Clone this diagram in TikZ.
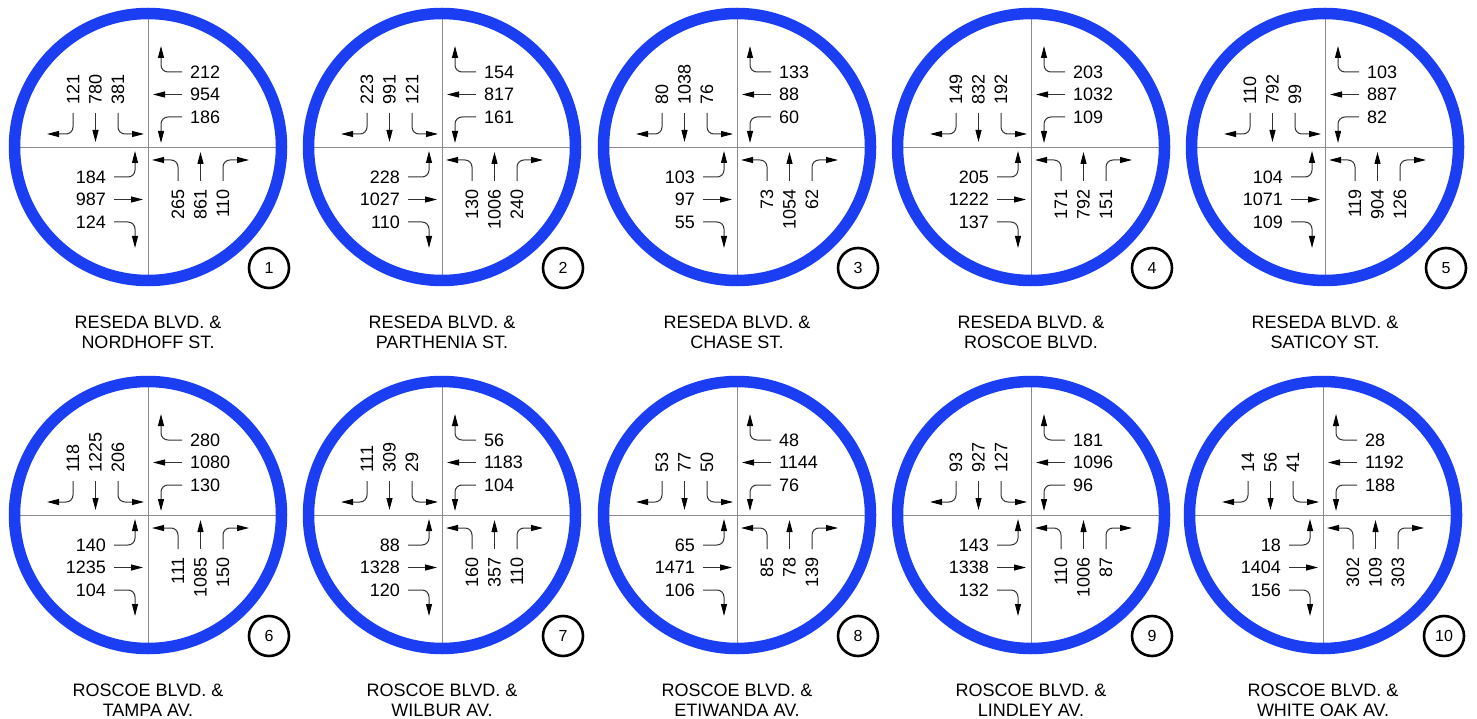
\documentclass[tikz,border=0pt]{standalone}
\usepackage{fontspec}
\setmainfont{Liberation Sans}
\usetikzlibrary{arrows.meta}
\definecolor{ringblue}{RGB}{28,62,242}
\tikzset{
  vol/.style={font=\fontsize{18}{20}\selectfont, inner sep=0pt},
  mv/.style={draw=black!80, line width=1pt, rounded corners=7pt,
             -{Triangle[length=12pt,width=6pt,color=black]}},
  ring/.style={draw=ringblue, line width=11.5pt},
  cross/.style={draw=black!45, line width=0.8pt},
  badge/.style={circle, draw=black, line width=2.6pt, minimum size=40pt,
                inner sep=0pt, font=\fontsize{16}{16}\selectfont},
  caption/.style={align=center, inner sep=0pt, font=\fontsize{18}{20}\selectfont}
}
% one approach's three movements, drawn for southbound traffic
\newcommand\moveset{%
  \draw[mv] (-75,-34) |- (-101,-13);
  \draw[mv] (-52.5,-34) -- (-52.5,-5);
  \draw[mv] (-30,-34) |- (-4,-13);}
% #1 id, #2 x, #3 y, #4 caption
\newcommand\jct[4]{%
  \begin{scope}[shift={(#2,#3)}]
    \draw[cross] (-133,0) -- (133,0);
    \draw[cross] (0,-133) -- (0,133);
    \draw[ring] (0,0) circle[radius=133.5pt];
    \foreach \r in {0,-90,-180,-270}{%
      \begin{scope}[rotate=\r]\moveset\end{scope}}
    \node[badge] (j#1badge) at (121,121) {#1};
    \node[caption] (j#1cap) at (0,185) {#4};
  \end{scope}}
% #1 id, #2 x, #3 y, #4-#6 southbound R T L, #7-#9 westbound R T L
\newcommand\volsA[9]{%
  \begin{scope}[shift={(#2,#3)}]
    \node[vol,rotate=90,anchor=west] (j#1sbr) at (-75,-42) {#4};
    \node[vol,rotate=90,anchor=west] (j#1sbt) at (-52.5,-42) {#5};
    \node[vol,rotate=90,anchor=west] (j#1sbl) at (-30,-42) {#6};
    \node[vol,anchor=west] (j#1wbr) at (42,-75) {#7};
    \node[vol,anchor=west] (j#1wbt) at (42,-52.5) {#8};
    \node[vol,anchor=west] (j#1wbl) at (42,-30) {#9};
  \end{scope}}
% #1 id, #2 x, #3 y, #4-#6 northbound L T R, #7-#9 eastbound L T R
\newcommand\volsB[9]{%
  \begin{scope}[shift={(#2,#3)}]
    \node[vol,rotate=90,anchor=east] (j#1nbl) at (30,42) {#4};
    \node[vol,rotate=90,anchor=east] (j#1nbt) at (52.5,42) {#5};
    \node[vol,rotate=90,anchor=east] (j#1nbr) at (75,42) {#6};
    \node[vol,anchor=east] (j#1ebl) at (-42,30) {#7};
    \node[vol,anchor=east] (j#1ebt) at (-42,52.5) {#8};
    \node[vol,anchor=east] (j#1ebr) at (-42,75) {#9};
  \end{scope}}
\begin{document}
\begin{tikzpicture}[x=1pt,y=-1pt]
\useasboundingbox[fill=white] (0,0) rectangle (1477,719);
% row 1
\jct{1}{148}{147}{RESEDA BLVD. \&\\NORDHOFF ST.}
\volsA{1}{148}{147}{121}{780}{381}{212}{954}{186}
\volsB{1}{148}{147}{265}{861}{110}{184}{987}{124}
\jct{2}{442}{147}{RESEDA BLVD. \&\\PARTHENIA ST.}
\volsA{2}{442}{147}{223}{991}{121}{154}{817}{161}
\volsB{2}{442}{147}{130}{1006}{240}{228}{1027}{110}
\jct{3}{737}{147}{RESEDA BLVD. \&\\CHASE ST.}
\volsA{3}{737}{147}{80}{1038}{76}{133}{88}{60}
\volsB{3}{737}{147}{73}{1054}{62}{103}{97}{55}
\jct{4}{1031}{147}{RESEDA BLVD. \&\\ROSCOE BLVD.}
\volsA{4}{1031}{147}{149}{832}{192}{203}{1032}{109}
\volsB{4}{1031}{147}{171}{792}{151}{205}{1222}{137}
\jct{5}{1325}{147}{RESEDA BLVD. \&\\SATICOY ST.}
\volsA{5}{1325}{147}{110}{792}{99}{103}{887}{82}
\volsB{5}{1325}{147}{119}{904}{126}{104}{1071}{109}
% row 2
\jct{6}{148}{515}{ROSCOE BLVD. \&\\TAMPA AV.}
\volsA{6}{148}{515}{118}{1225}{206}{280}{1080}{130}
\volsB{6}{148}{515}{111}{1085}{150}{140}{1235}{104}
\jct{7}{442}{515}{ROSCOE BLVD. \&\\WILBUR AV.}
\volsA{7}{442}{515}{111}{309}{29}{56}{1183}{104}
\volsB{7}{442}{515}{160}{357}{110}{88}{1328}{120}
\jct{8}{737}{515}{ROSCOE BLVD. \&\\ETIWANDA AV.}
\volsA{8}{737}{515}{53}{77}{50}{48}{1144}{76}
\volsB{8}{737}{515}{85}{78}{139}{65}{1471}{106}
\jct{9}{1031}{515}{ROSCOE BLVD. \&\\LINDLEY AV.}
\volsA{9}{1031}{515}{93}{927}{127}{181}{1096}{96}
\volsB{9}{1031}{515}{110}{1006}{87}{143}{1338}{132}
\jct{10}{1323}{515}{ROSCOE BLVD. \&\\WHITE OAK AV.}
\volsA{10}{1323}{515}{14}{56}{41}{28}{1192}{188}
\volsB{10}{1323}{515}{302}{109}{303}{18}{1404}{156}
\end{tikzpicture}
\end{document}
